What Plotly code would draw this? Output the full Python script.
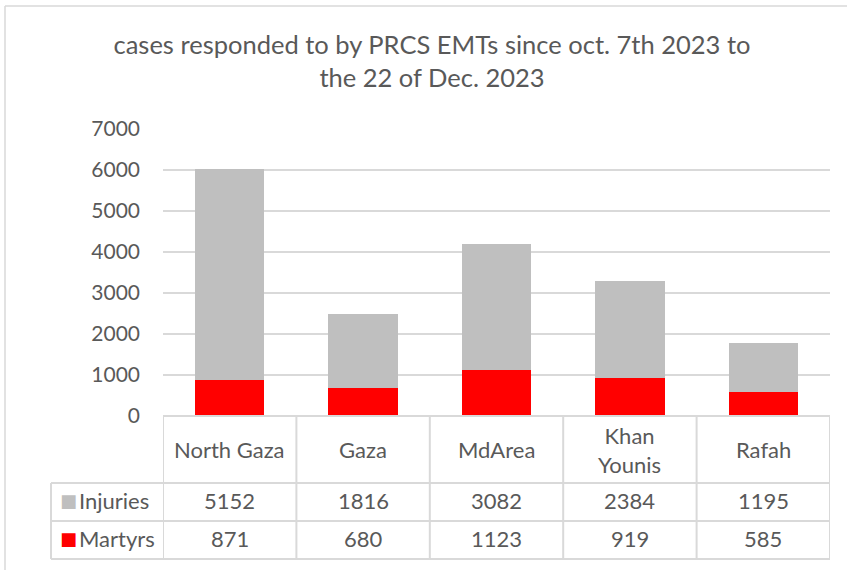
import plotly.graph_objects as go

categories = ["North Gaza", "Gaza", "MdArea", "Khan<br>Younis", "Rafah"]
injuries = [5152, 1816, 3082, 2384, 1195]
martyrs = [871, 680, 1123, 919, 585]
series_names = ["Injuries", "Martyrs"]
series_values = [injuries, martyrs]
series_colors = ["#BFBFBF", "#FF0000"]
y_ticks = [0, 1000, 2000, 3000, 4000, 5000, 6000, 7000]

W, H = 847, 570
L, R, T, B = 163, 830, 129, 416
PW, PH = R - L, B - T
FONT = "Lato, Calibri, sans-serif"
TXT = "#595959"
LINE = "#D9D9D9"


def px_x(px):
    return (px - L) / PW


def px_y(py):
    return (B - py) / PH


xs = list(range(len(categories)))

fig = go.Figure()
fig.add_trace(go.Bar(x=xs, y=martyrs, name="Martyrs", marker_color=series_colors[1],
                     marker_line_width=0))
fig.add_trace(go.Bar(x=xs, y=injuries, name="Injuries", marker_color=series_colors[0],
                     marker_line_width=0))

shapes = []
# outer chart border (left and top visible)
shapes.append(dict(type="line", xref="paper", yref="paper", x0=px_x(5), x1=px_x(860),
                   y0=px_y(6), y1=px_y(6), line=dict(color=LINE, width=1.5)))
shapes.append(dict(type="line", xref="paper", yref="paper", x0=px_x(5), x1=px_x(5),
                   y0=px_y(6), y1=px_y(580), line=dict(color=LINE, width=1.5)))

row_tops = [416, 483, 521, 559]
# top line of table (axis line)
shapes.append(dict(type="line", xref="x", yref="paper", x0=-0.5, x1=len(categories) - 0.5,
                   y0=px_y(row_tops[0]), y1=px_y(row_tops[0]), line=dict(color=LINE, width=2)))
for ry in row_tops[1:]:
    shapes.append(dict(type="line", xref="paper", yref="paper", x0=px_x(51), x1=1,
                       y0=px_y(ry), y1=px_y(ry), line=dict(color=LINE, width=2)))
for i in range(len(categories) + 1):
    shapes.append(dict(type="line", xref="x", yref="paper", x0=i - 0.5, x1=i - 0.5,
                       y0=px_y(row_tops[0]), y1=px_y(row_tops[-1]), line=dict(color=LINE, width=2)))
shapes.append(dict(type="line", xref="paper", yref="paper", x0=px_x(51), x1=px_x(51),
                   y0=px_y(row_tops[1]), y1=px_y(row_tops[-1]), line=dict(color=LINE, width=2)))

annotations = []
for i, c in enumerate(categories):
    annotations.append(dict(x=i, xref="x", y=px_y((row_tops[0] + row_tops[1]) / 2), yref="paper",
                            text=c, showarrow=False, font=dict(size=22, color=TXT, family=FONT),
                            xanchor="center", yanchor="middle"))
for r, (name, vals, col) in enumerate(zip(series_names, series_values, series_colors)):
    yc = px_y((row_tops[r + 1] + row_tops[r + 2]) / 2 - 1.5)
    annotations.append(dict(x=px_x(58), xref="paper", y=yc, yref="paper",
                            text="■", showarrow=False, xanchor="left", yanchor="middle",
                            font=dict(size=18, color=col, family="DejaVu Sans")))
    annotations.append(dict(x=px_x(77), xref="paper", y=yc, yref="paper",
                            text=name, showarrow=False, xanchor="left", yanchor="middle",
                            font=dict(size=22, color=TXT, family=FONT)))
    for i, v in enumerate(vals):
        annotations.append(dict(x=i, xref="x", y=yc, yref="paper", text=str(v),
                                showarrow=False, xanchor="center", yanchor="middle",
                                font=dict(size=22, color=TXT, family=FONT)))

fig.update_layout(
    width=W, height=H,
    margin=dict(l=L, r=W - R, t=T, b=H - B, pad=0),
    paper_bgcolor="white", plot_bgcolor="white",
    barmode="stack", bargap=0.48,
    showlegend=False,
    title=dict(text="cases responded to by PRCS EMTs since oct. 7th 2023 to<br>the 22 of Dec. 2023",
               x=432 / W, xref="container", xanchor="center",
               y=1 - 54 / H, yref="container", yanchor="middle",
               font=dict(size=25.5, color=TXT, family=FONT)),
    xaxis=dict(range=[-0.5, len(categories) - 0.5], showticklabels=False, showgrid=False,
               zeroline=False, showline=False, fixedrange=True),
    yaxis=dict(range=[0, 7000], tickvals=y_ticks, showgrid=True, gridcolor=LINE, gridwidth=1.5,
               zeroline=False, showline=False, ticks="", ticklabelstandoff=22,
               tickfont=dict(size=21, color=TXT, family=FONT)),
    shapes=shapes,
    annotations=annotations,
)

fig.write_html("out.html", config={"displayModeBar": False},
               post_script="document.body.style.margin='0';document.body.style.padding='0';")
